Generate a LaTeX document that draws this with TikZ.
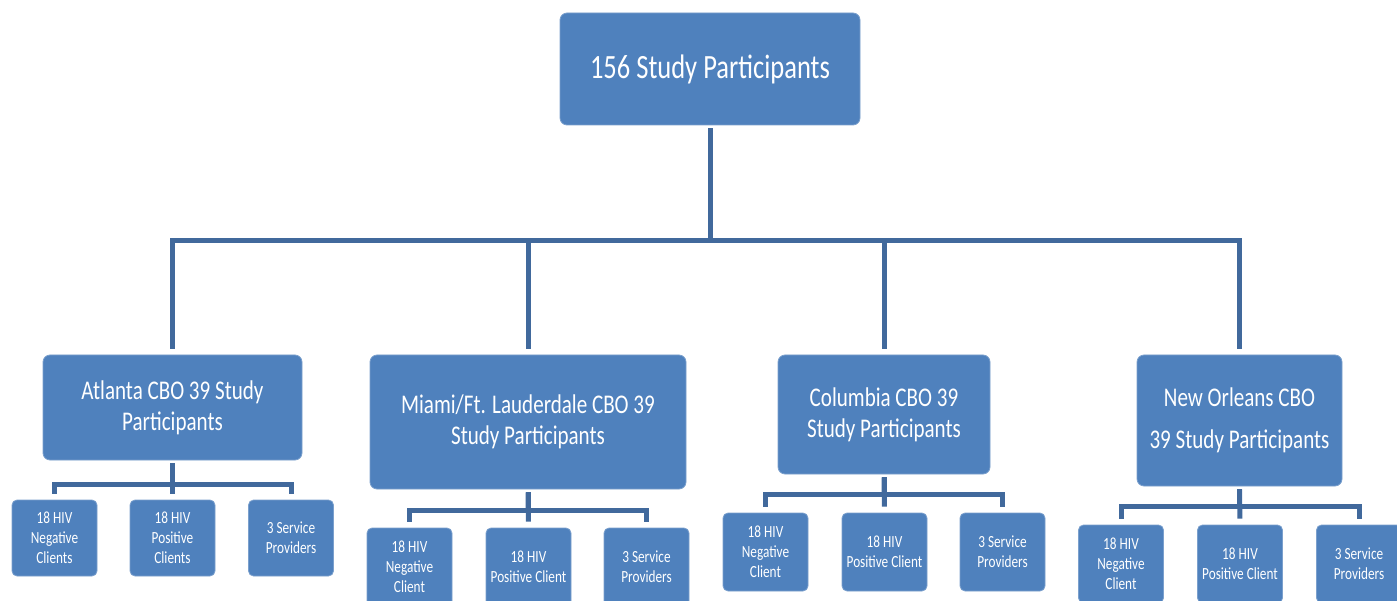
\documentclass[tikz,border=0pt]{standalone}
\usepackage{fontspec}
\setmainfont{Carlito}[FakeStretch=0.78]
\usetikzlibrary{positioning}

\definecolor{boxblue}{HTML}{4F81BD}
\definecolor{linkblue}{HTML}{41699C}

\tikzset{
  box/.style={fill=boxblue, draw=boxblue!75!white, line width=0.8pt, rounded corners=7pt,
    text=white, align=center, inner sep=0pt},
  topbox/.style={box, minimum width=300pt, minimum height=112pt, font=\fontsize{34}{40}\selectfont},
  sitebox/.style={box, font=\fontsize{27}{31}\selectfont},
  leafbox/.style={box, rounded corners=5pt, minimum width=85pt, font=\fontsize{17}{20}\selectfont},
  link/.style={draw=linkblue, line width=5pt, shorten <=3pt, shorten >=6pt},
}

\begin{document}
\begin{tikzpicture}[x=1pt, y=-1pt]
    \useasboundingbox (0,0) rectangle (1397,601);

    \node[topbox] (all) at (710,69) {156 Study Participants};

    % one box per site
    \node[sitebox, minimum width=259pt, minimum height=105pt] (atl) at (172.5,407.5) {Atlanta CBO 39 Study\\Participants};
    \node[sitebox, minimum width=316pt, minimum height=134pt] (mia) at (528,422) {Miami/Ft. Lauderdale CBO 39\\Study Participants};
    \node[sitebox, minimum width=212pt, minimum height=119pt] (col) at (884,414.5) {Columbia CBO 39\\Study Participants};
    \node[sitebox, minimum width=205pt, minimum height=131pt] (nol) at (1239.5,420.5) {New Orleans CBO\\[11pt] 39 Study Participants};

    % participants of each site
    \node[leafbox, minimum height=76pt] (atl-neg) at (54.5,538) {18 HIV\\Negative\\Clients};
    \node[leafbox, minimum height=76pt] (atl-pos) at (172.5,538) {18 HIV\\Positive\\Clients};
    \node[leafbox, minimum height=76pt] (atl-srv) at (291,538) {3 Service\\Providers};

    \node[leafbox, minimum height=78pt] (mia-neg) at (409.5,567) {18 HIV\\Negative\\Client};
    \node[leafbox, minimum height=78pt] (mia-pos) at (528.5,567) {18 HIV\\Positive Client};
    \node[leafbox, minimum height=78pt] (mia-srv) at (646.5,567) {3 Service\\Providers};

    \node[leafbox, minimum height=78pt] (col-neg) at (765.5,552) {18 HIV\\Negative\\Client};
    \node[leafbox, minimum height=78pt] (col-pos) at (884.5,552) {18 HIV\\Positive Client};
    \node[leafbox, minimum height=78pt] (col-srv) at (1002.5,552) {3 Service\\Providers};

    \node[leafbox, minimum height=78pt] (nol-neg) at (1121,564) {18 HIV\\Negative\\Client};
    \node[leafbox, minimum height=78pt] (nol-pos) at (1240,564) {18 HIV\\Positive Client};
    \node[leafbox, minimum height=78pt] (nol-srv) at (1359,564) {3 Service\\Providers};

    % tree lines
    \draw[link] (all.south) -- ++(0,115) -| (atl.north);
    \draw[link] (all.south) -- ++(0,115) -| (mia.north);
    \draw[link] (all.south) -- ++(0,115) -| (col.north);
    \draw[link] (all.south) -- ++(0,115) -| (nol.north);

    \draw[link] (atl.south) -- ++(0,24) -| (atl-neg.north);
    \draw[link] (atl.south) -- (atl-pos.north);
    \draw[link] (atl.south) -- ++(0,24) -| (atl-srv.north);

    \draw[link] (mia.south) -- ++(0,21) -| (mia-neg.north);
    \draw[link] (mia.south) -- (mia-pos.north);
    \draw[link] (mia.south) -- ++(0,21) -| (mia-srv.north);

    \draw[link] (col.south) -- ++(0,20) -| (col-neg.north);
    \draw[link] (col.south) -- (col-pos.north);
    \draw[link] (col.south) -- ++(0,20) -| (col-srv.north);

    \draw[link] (nol.south) -- ++(0,20) -| (nol-neg.north);
    \draw[link] (nol.south) -- (nol-pos.north);
    \draw[link] (nol.south) -- ++(0,20) -| (nol-srv.north);
\end{tikzpicture}
\end{document}
